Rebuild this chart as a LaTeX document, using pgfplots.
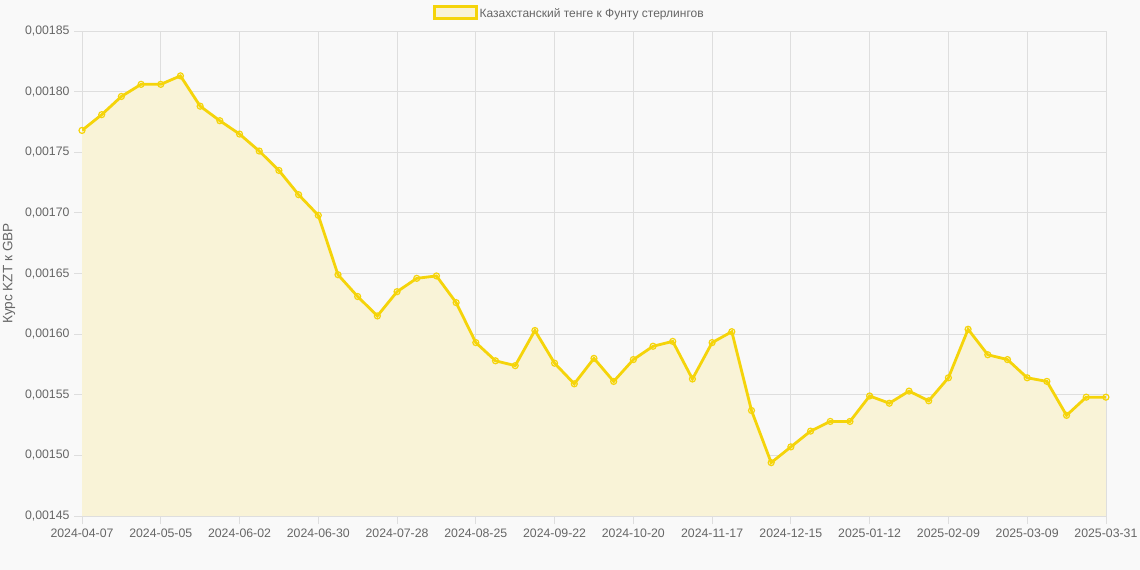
\documentclass[border=0pt]{standalone}
\usepackage{fontspec}
\setmainfont{Liberation Sans}
\usepackage{pgfplots}
\pgfplotsset{compat=1.18}
\usepackage{pgfplotstable}
\definecolor{gold}{RGB}{245,212,10}
\definecolor{goldfill}{RGB}{249,243,215}
\definecolor{bg}{RGB}{249,249,249}
\definecolor{gridc}{RGB}{222,222,222}
\definecolor{txt}{RGB}{102,102,102}
\pgfplotstableread{
i v
0 0.001768
1 0.001781
2 0.001796
3 0.001806
4 0.001806
5 0.001813
6 0.001788
7 0.001776
8 0.001765
9 0.001751
10 0.001735
11 0.001715
12 0.001698
13 0.001649
14 0.001631
15 0.001615
16 0.001635
17 0.001646
18 0.001648
19 0.001626
20 0.001593
21 0.001578
22 0.001574
23 0.001603
24 0.001576
25 0.001559
26 0.001580
27 0.001561
28 0.001579
29 0.001590
30 0.001594
31 0.001563
32 0.001593
33 0.001602
34 0.001537
35 0.001494
36 0.001507
37 0.001520
38 0.001528
39 0.001528
40 0.001549
41 0.001543
42 0.001553
43 0.001545
44 0.001564
45 0.001604
46 0.001583
47 0.001579
48 0.001564
49 0.001561
50 0.001533
51 0.001548
52 0.001548
}\data
\begin{document}
\begin{tikzpicture}
\fill[bg] (0,0) rectangle (1140bp,570bp);
\useasboundingbox (0,0) rectangle (1140bp,570bp);
\begin{axis}[
  at={(82bp,54bp)}, anchor=south west,
  scale only axis, width=1024bp, height=485bp,
  xmin=0, xmax=52, ymin=0.00145, ymax=0.00185,
  xtick={0,4,...,48,52},
  xticklabels={2024-04-07,2024-05-05,2024-06-02,2024-06-30,2024-07-28,2024-08-25,2024-09-22,2024-10-20,2024-11-17,2024-12-15,2025-01-12,2025-02-09,2025-03-09,2025-03-31},
  ytick={0.00145,0.0015,0.00155,0.0016,0.00165,0.0017,0.00175,0.0018,0.00185},
  scaled y ticks=false,
  /pgf/number format/fixed, /pgf/number format/fixed zerofill, /pgf/number format/precision=5, /pgf/number format/use comma, /pgf/number format/assume math mode=true,
  grid=major, grid style={gridc, line width=0.8bp},
  axis line style={gridc, line width=0.8bp},
  tick style={gridc, line width=0.8bp},
  tick align=outside, major tick length=8bp,
  axis x line*=bottom, axis y line*=left,
  ticklabel style={font=\fontsize{12.3bp}{14bp}\selectfont, text=txt},
  xticklabel style={yshift=-1bp},
  yticklabel style={xshift=-1bp},
  ylabel={Курс KZT к GBP},
  ylabel style={at={(axis description cs:-0.0713,0.5)}, anchor=center, font=\fontsize{13.6bp}{16bp}\selectfont, text=txt},
  clip mode=individual,
  legend style={at={(axis description cs:0.476,1)}, anchor=south, yshift=8bp, draw=none, fill=none, font=\fontsize{12bp}{14bp}\selectfont, text=txt, legend cell align=left},
  legend image code/.code={\draw[draw=gold, fill=goldfill, line width=2.5bp] (-6bp,-5bp) rectangle (36bp,7bp);},
]
\addplot[draw=none, fill=goldfill, forget plot] table[x=i, y=v] {\data} \closedcycle;
\addplot[gold, line width=2.8bp, mark=o, mark size=3bp, mark options={line width=1.2bp, fill=gold!30}] table[x=i, y=v] {\data};
\addlegendentry{Казахстанский тенге к Фунту стерлингов}
\end{axis}
\end{tikzpicture}
\end{document}
